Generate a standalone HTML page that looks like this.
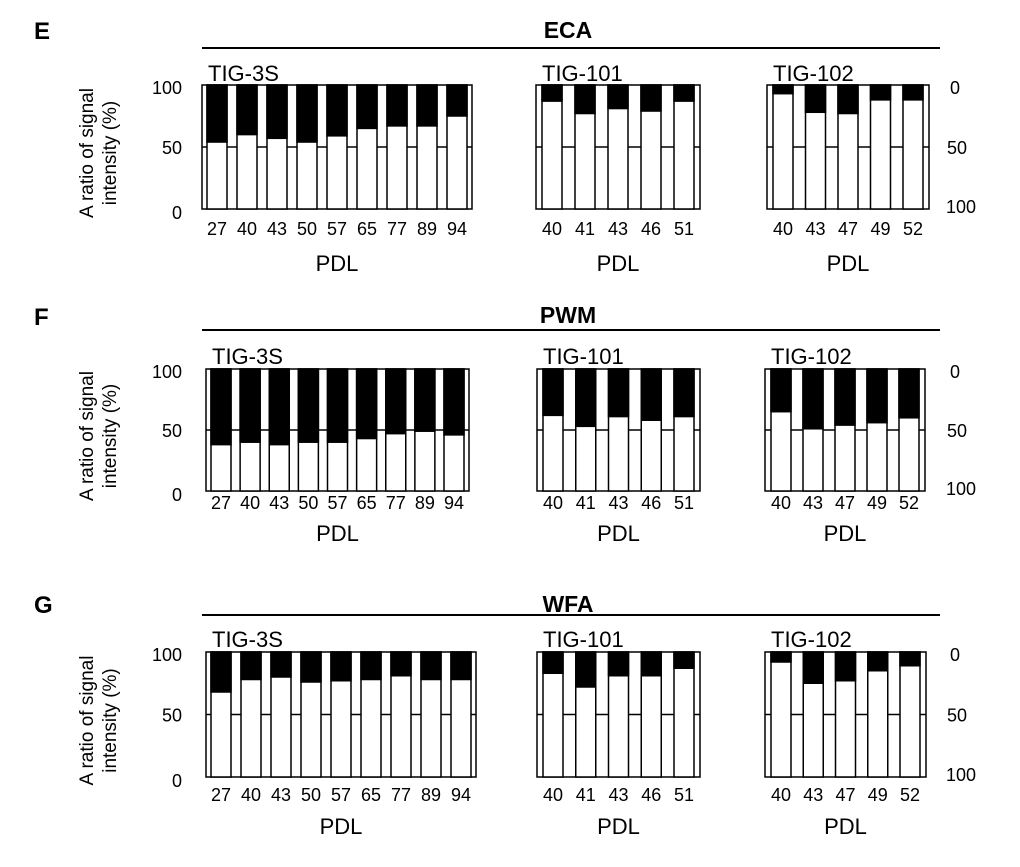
<!DOCTYPE html>
<html><head><meta charset="utf-8"><style>
body{margin:0;background:#fff;}
svg{display:block;font-family:"Liberation Sans",Arial,sans-serif;}
</style></head><body>
<svg id="chart" width="1020" height="867" viewBox="0 0 1020 867" xmlns="http://www.w3.org/2000/svg"></svg>
<script>
// Data: white-portion percentage per bar
const eca3SLabels = ["27","40","43","50","57","65","77","89","94"];
const eca3S = [54,60,57,54,59,65,67,67,75];
const eca101Labels = ["40","41","43","46","51"];
const eca101 = [87,77,81,79,87];
const eca102Labels = ["40","43","47","49","52"];
const eca102 = [93,78,77,88,88];

const pwm3SLabels = ["27","40","43","50","57","65","77","89","94"];
const pwm3S = [38,40,38,40,40,43,47,49,46];
const pwm101Labels = ["40","41","43","46","51"];
const pwm101 = [62,53,61,58,61];
const pwm102Labels = ["40","43","47","49","52"];
const pwm102 = [65,51,54,56,60];

const wfa3SLabels = ["27","40","43","50","57","65","77","89","94"];
const wfa3S = [68,78,80,76,77,78,81,78,78];
const wfa101Labels = ["40","41","43","46","51"];
const wfa101 = [83,72,81,81,87];
const wfa102Labels = ["40","43","47","49","52"];
const wfa102 = [92,75,77,85,89];

const leftTicks = ["100","50","0"];
const rightTicks = ["0","50","100"];

const NS="http://www.w3.org/2000/svg";
const svg=document.getElementById('chart');
function mk(tag,attrs,parent){const e=document.createElementNS(NS,tag);for(const k in attrs)e.setAttribute(k,attrs[k]);(parent||svg).appendChild(e);return e;}
function txt(s,x,y,size,anchor,parent,weight){const t=mk('text',{x:x,y:y,'font-size':size,'text-anchor':anchor||'start',fill:'#000'},parent);if(weight)t.setAttribute('font-weight',weight);t.textContent=s;return t;}

const sections=[
 {letter:"E",title:"ECA",letterY:39,lineY:48,titleY:38,top:85,bot:209,subY:81,tickY:235,pdlY:271,
  panels:[{name:"TIG-3S",x0:202,x1:472,off:5,vals:eca3S,labels:eca3SLabels},
          {name:"TIG-101",x0:536,x1:700,off:6,vals:eca101,labels:eca101Labels},
          {name:"TIG-102",x0:767,x1:929,off:6,vals:eca102,labels:eca102Labels}]},
 {letter:"F",title:"PWM",letterY:325,lineY:330,titleY:323,top:369,bot:491,subY:364,tickY:509,pdlY:541,
  panels:[{name:"TIG-3S",x0:206,x1:469,off:5,vals:pwm3S,labels:pwm3SLabels},
          {name:"TIG-101",x0:537,x1:700,off:6,vals:pwm101,labels:pwm101Labels},
          {name:"TIG-102",x0:765,x1:925,off:6,vals:pwm102,labels:pwm102Labels}]},
 {letter:"G",title:"WFA",letterY:613,lineY:615,titleY:612,top:652,bot:777,subY:647,tickY:801,pdlY:834,
  panels:[{name:"TIG-3S",x0:206,x1:476,off:5,vals:wfa3S,labels:wfa3SLabels},
          {name:"TIG-101",x0:537,x1:700,off:6,vals:wfa101,labels:wfa101Labels},
          {name:"TIG-102",x0:765,x1:926,off:6,vals:wfa102,labels:wfa102Labels}]}
];

sections.forEach(sec=>{
  const g=mk('g',{});
  
  
  const L=txt(sec.letter,34,sec.letterY,24,'start',g,'bold');
  
  
  const T=txt(sec.title,568,sec.titleY,23,'middle',g,'bold');
  
  
  const ln=mk('line',{x1:202,x2:940,y1:sec.lineY,y2:sec.lineY,stroke:'#000','stroke-width':2},g);
  
  
  const yS=p=>sec.bot-(sec.bot-sec.top)*p/100;
  const ya=mk('text',{transform:`translate(104,${(sec.top+sec.bot)/2+6}) rotate(-90)`,'font-size':19,'text-anchor':'middle',fill:'#000'},g);
  
  
  const t1=mk('tspan',{x:0,dy:-11},ya);t1.textContent="A ratio of signal";
  const t2=mk('tspan',{x:0,dy:23},ya);t2.textContent="intensity (%)";
  [100,50,0].forEach((v,i)=>{
    const t=txt(leftTicks[i],182,yS(v)+7+(i===0?2:i===2?3:0),18,'end',g);
    
    
  });
  [100,50,0].forEach((v,i)=>{
    const t=txt(rightTicks[i],i===2?946:i===1?947:950,yS(v)+7+(i===0?2:i===2?-3:0),18,'start',g);
    
    
  });
  sec.panels.forEach(p=>{
    const pg=mk('g',{},g);
    
    
    const st=txt(p.name,p.x0+6,sec.subY,22,'start',pg);
    
    
    const box=mk('rect',{x:p.x0,y:sec.top,width:p.x1-p.x0,height:sec.bot-sec.top,fill:'#fff',stroke:'#000','stroke-width':1.5},pg);
    
    
    const mid=mk('line',{x1:p.x0,x2:p.x1,y1:yS(50),y2:yS(50),stroke:'#000','stroke-width':1.5},pg);
    
    
    const n=p.vals.length,bw=20;
    const step=(p.x1-p.x0-2*p.off-bw)/(n-1);
    p.vals.forEach((v,i)=>{
      const bx=p.x0+p.off+i*step;
      const w=mk('rect',{x:bx,y:sec.top,width:bw,height:sec.bot-sec.top,fill:'#fff',stroke:'#000','stroke-width':1.5},pg);
      
      
      const b=mk('rect',{x:bx,y:sec.top,width:bw,height:yS(v)-sec.top,fill:'#000',stroke:'#000','stroke-width':1.5},pg);
      
      
      const tl=txt(p.labels[i],bx+bw/2,sec.tickY,18,'middle',pg);
      
      
    });
    const pd=txt("PDL",(p.x0+p.x1)/2,sec.pdlY,22,'middle',pg);
    
    
  });
});
</script>
</body></html>
